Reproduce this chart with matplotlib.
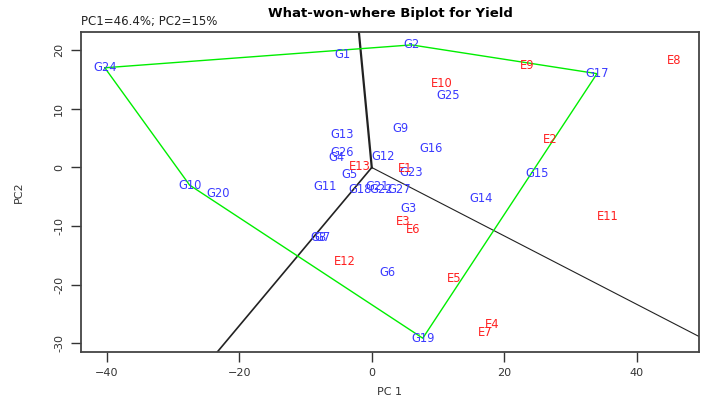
# Which-won-where GGE biplot for yield
import numpy as np
import matplotlib
matplotlib.use("Agg")
import matplotlib.pyplot as plt

# Genotype scores (PC1, PC2)
gen_names = ["G1", "G2", "G3", "G4", "G5", "G6", "G7", "G8", "G9", "G10",
             "G11", "G12", "G13", "G14", "G15", "G16", "G17", "G18", "G19", "G20",
             "G21", "G22", "G23", "G24", "G25", "G26", "G27"]
gen_pc1 = [-4.4, 6.0, 5.6, -5.3, -3.3, 2.4, -7.4, -8.0, 4.4, -27.5,
           -7.1, 1.7, -4.4, 16.5, 24.9, 8.9, 34.0, -1.7, 7.7, -23.2,
           0.8, 1.4, 6.0, -40.3, 11.5, -4.4, 4.2]
gen_pc2 = [19.2, 20.9, -7.0, 1.7, -1.2, -17.9, -12.0, -12.0, 6.6, -3.0,
           -3.3, 1.9, 5.6, -5.3, -1.0, 3.2, 16.0, -3.8, -29.1, -4.5,
           -3.2, -3.8, -0.9, 17.0, 12.3, 2.6, -3.7]

# Environment scores (PC1, PC2)
env_names = ["E1", "E2", "E3", "E4", "E5", "E6", "E7", "E8", "E9", "E10",
             "E11", "E12", "E13"]
env_pc1 = [5.0, 27.0, 4.7, 18.1, 12.5, 6.2, 17.1, 45.7, 23.4, 10.6,
           35.6, -4.1, -1.8]
env_pc2 = [-0.2, 4.7, -9.2, -26.8, -19.0, -10.5, -28.2, 18.3, 17.4, 14.3,
           -8.4, -16.1, 0.1]

# vertex genotypes of the polygon, in drawing order
hull = ["G24", "G2", "G17", "G19", "G10"]
# polygon sides that get a sector line from the origin
ray_sides = [("G24", "G2"), ("G19", "G17"), ("G10", "G19")]
ray_widths = [1.6, 0.8, 1.2]

gen = {n: (x, y) for n, x, y in zip(gen_names, gen_pc1, gen_pc2)}

xlim = (-43.9, 49.4)
ylim = (-31.4, 23.1)

fig = plt.figure(figsize=(7.09, 3.96), dpi=100)
ax = fig.add_axes([0.1142, 0.1119, 0.8717, 0.8073])

# polygon joining the vertex genotypes
hx = [gen[n][0] for n in hull] + [gen[hull[0]][0]]
hy = [gen[n][1] for n in hull] + [gen[hull[0]][1]]
ax.plot(hx, hy, color="#00ee00", lw=1.0, zorder=2)

# sector lines: from the origin, perpendicular to each polygon side
for (a, b), w in zip(ray_sides, ray_widths):
    dx = gen[b][0] - gen[a][0]
    dy = gen[b][1] - gen[a][1]
    px, py = dy, -dx
    # point the line towards the side
    if px * gen[a][0] + py * gen[a][1] < 0:
        px, py = -px, -py
    t = 200.0
    ax.plot([0, px * t], [0, py * t], color="#222222", lw=w, zorder=1)

for n, x, y in zip(gen_names, gen_pc1, gen_pc2):
    ax.text(x, y, n, color="#3a3aff", fontsize=8.3, ha="center", va="center", zorder=3)
for n, x, y in zip(env_names, env_pc1, env_pc2):
    ax.text(x, y, n, color="#ff2020", fontsize=8.3, ha="center", va="center", zorder=3)

ax.set_xlim(xlim)
ax.set_ylim(ylim)
ax.set_xticks([-40, -20, 0, 20, 40])
ax.set_yticks([-30, -20, -10, 0, 10, 20])
ax.set_yticklabels(["-30", "-20", "-10", "0", "10", "20"], rotation=90, va="center")
ax.tick_params(direction="out", length=7, width=1, labelsize=8, colors="#333333", pad=5)
for s in ax.spines.values():
    s.set_color("#444444")
    s.set_linewidth(1.3)

ax.set_xlabel("PC 1", fontsize=8, color="#333333", labelpad=6)
ax.set_ylabel("PC2", fontsize=8, color="#333333", labelpad=22)
fig.text(0.55, 0.965, "What-won-where Biplot for Yield", fontsize=9.5,
         fontweight="bold", ha="center", va="center")
ax.text(0.0, 1.012, "PC1=46.4%; PC2=15%", transform=ax.transAxes, fontsize=8.5,
        color="#222222", ha="left", va="bottom")

plt.savefig("out.png", dpi=100)
